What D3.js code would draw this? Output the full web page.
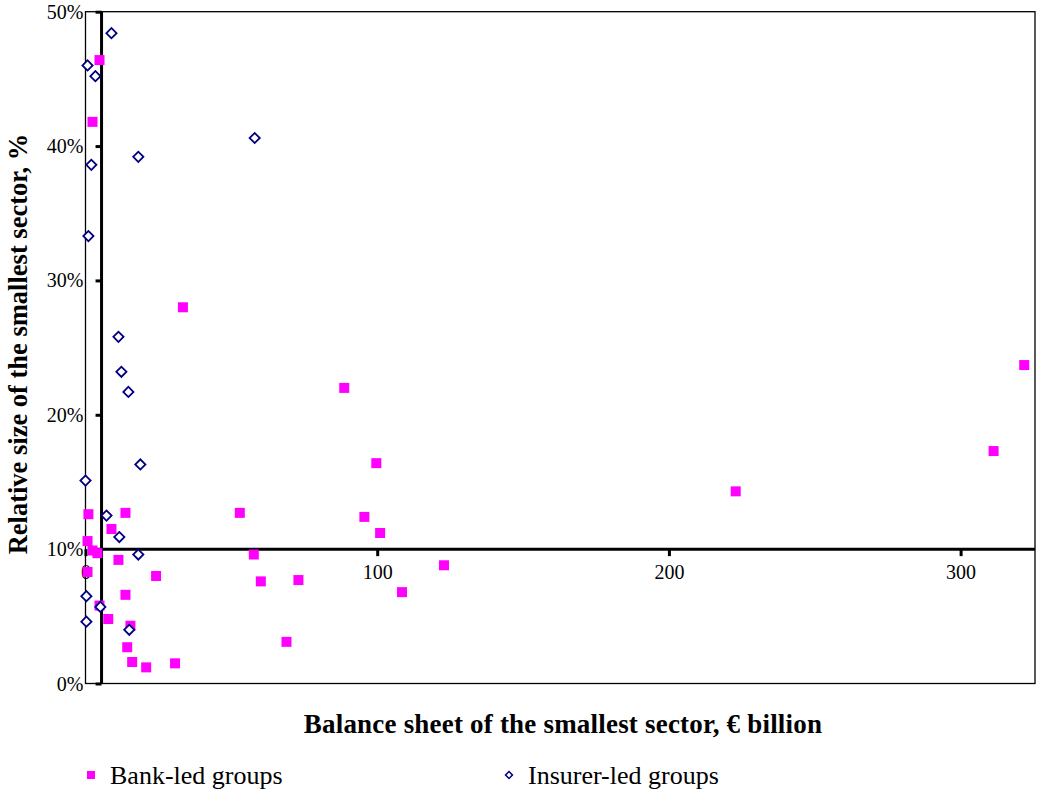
<!DOCTYPE html>
<html>
<head>
<meta charset="utf-8">
<script src="https://cdn.jsdelivr.net/npm/d3@7"></script>
<style>
    body { margin: 0; background: #fff; }
    text { font-family: "Liberation Serif", "Times New Roman", serif; fill: #000; }
</style>
</head>
<body>
<script>
(function () {

    //bank-led groups: balance sheet (EUR bn) and relative size (%)
    var bankX = [4.8, 2.4, 33.4, 88.7, 99.7, 321.8, 311.3, 222.9, 52.9, 95.6, 101, 1.0, 13.7, 8.9,
        0.7, 2.4, 4.1, 11.3, 57.7, 0.7, 24.2, 60.1, 73.0, 122.9, 108.5, 13.7, 4.8, 7.8, 15.4, 14.3,
        16.0, 20.8, 30.7, 68.9];
    var bankY = [46.4, 41.8, 28.0, 22.0, 16.4, 23.7, 17.3, 14.3, 12.7, 12.4, 11.2, 12.6, 12.7, 11.5,
        10.6, 9.9, 9.7, 9.2, 9.6, 8.3, 8.0, 7.6, 7.7, 8.8, 6.8, 6.6, 5.8, 4.8, 4.3, 2.7,
        1.6, 1.2, 1.5, 3.1];

    //insurer-led groups
    var insurerX = [8.9, 0.7, 3.4, 2.0, 18.1, 58.0, 1.0, 11.3, 12.3, 14.7, 18.8, 0.0, 7.2, 11.6,
        18.1, 0.3, 5.1, 0.3, 15.0];
    var insurerY = [48.4, 46.0, 45.2, 38.6, 39.2, 40.6, 33.3, 25.8, 23.2, 21.7, 16.3, 15.1, 12.5, 10.9,
        9.6, 6.5, 5.7, 4.6, 4.0];

    var xTicks = [0, 100, 200, 300];
    var yTicks = [0, 10, 20, 30, 40, 50];
    var xCross = 5.5;   //where the vertical axis crosses
    var yCross = 10;    //where the horizontal axis crosses

    var width = 1038,
        height = 792;

    var svg = d3.select("body")
        .append("svg")
        .attr("width", width)
        .attr("height", height);

    //plot frame
    var left = 85.5, right = 1035, top = 11.7, bottom = 683.5;

    var x = d3.scaleLinear().domain([0, 325.5]).range([left, right]);
    var y = d3.scaleLinear().domain([0, 50]).range([bottom, top]);

    //frame around plot area
    svg.append("rect")
        .attr("x", left)
        .attr("y", top)
        .attr("width", right - left)
        .attr("height", bottom - top)
        .attr("fill", "none")
        .attr("stroke", "#000")
        .attr("stroke-width", 1.3);

    //vertical axis through x = xCross
    var yAxis = d3.axisLeft(y)
        .tickValues(yTicks)
        .tickSize(6)
        .tickFormat("");
    var yAxisG = svg.append("g")
        .attr("transform", "translate(" + x(xCross) + ",0)")
        .call(yAxis);
    yAxisG.select(".domain").attr("stroke-width", 3).attr("d", "M0," + top + "V" + bottom);
    yAxisG.selectAll(".tick line").attr("stroke-width", 3);

    //y tick labels sit outside the frame
    svg.selectAll(".ylab")
        .data(yTicks)
        .enter()
        .append("text")
        .attr("class", "ylab")
        .attr("x", left - 2)
        .attr("y", function (d) { return y(d) + 7; })
        .attr("text-anchor", "end")
        .style("font-size", "20px")
        .text(function (d) { return d + "%"; });

    //horizontal axis through y = yCross
    var xAxis = d3.axisBottom(x)
        .tickValues(xTicks)
        .tickSize(7)
        .tickPadding(9)
        .tickFormat(d3.format("d"));
    var xAxisG = svg.append("g")
        .attr("transform", "translate(0," + y(yCross) + ")")
        .call(xAxis);
    xAxisG.select(".domain").attr("stroke-width", 3).attr("d", "M" + (x(xCross) - 6) + ",0H" + right);
    xAxisG.selectAll(".tick line").attr("stroke-width", 3);
    xAxisG.selectAll(".tick text")
        .style("font-family", "Liberation Serif, serif")
        .style("font-size", "20px")
        .attr("fill", "#000");

    //bank-led squares
    var sq = 10;
    svg.selectAll(".bank")
        .data(d3.range(bankX.length))
        .enter()
        .append("rect")
        .attr("class", "bank")
        .attr("x", function (i) { return x(bankX[i]) - sq / 2; })
        .attr("y", function (i) { return y(bankY[i]) - sq / 2; })
        .attr("width", sq)
        .attr("height", sq)
        .attr("fill", "#ff00ff");

    //insurer-led diamonds
    var diamond = d3.symbol().type(d3.symbolSquare).size(52);
    svg.selectAll(".insurer")
        .data(d3.range(insurerX.length))
        .enter()
        .append("path")
        .attr("class", "insurer")
        .attr("d", diamond)
        .attr("transform", function (i) {
            return "translate(" + x(insurerX[i]) + "," + y(insurerY[i]) + ") rotate(45)";
        })
        .attr("fill", "#fff")
        .attr("stroke", "#000080")
        .attr("stroke-width", 1.8);

    //axis titles
    svg.append("text")
        .attr("x", 563)
        .attr("y", 733)
        .attr("text-anchor", "middle")
        .style("font-size", "27px")
        .style("font-weight", "bold")
        .style("letter-spacing", "0.2px")
        .text("Balance sheet of the smallest sector, € billion");

    svg.append("text")
        .attr("transform", "translate(27,344) rotate(-90)")
        .attr("text-anchor", "middle")
        .style("font-size", "26.5px")
        .style("font-weight", "bold")
        .text("Relative size of the smallest sector, %");

    //legend
    svg.append("rect")
        .attr("x", 87)
        .attr("y", 771)
        .attr("width", 8)
        .attr("height", 8)
        .attr("fill", "#ff00ff");
    svg.append("text")
        .attr("x", 110)
        .attr("y", 784)
        .style("font-size", "26px")
        .text("Bank-led groups");

    svg.append("path")
        .attr("d", d3.symbol().type(d3.symbolSquare).size(24))
        .attr("transform", "translate(509,775) rotate(45)")
        .attr("fill", "#fff")
        .attr("stroke", "#000080")
        .attr("stroke-width", 1.5);
    svg.append("text")
        .attr("x", 528)
        .attr("y", 784)
        .style("font-size", "26px")
        .text("Insurer-led groups");
})();
</script>
</body>
</html>
